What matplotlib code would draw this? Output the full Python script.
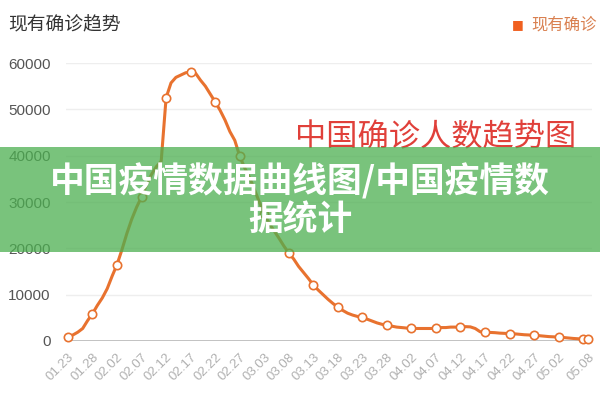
import numpy as np
import matplotlib
matplotlib.use("Agg")
import matplotlib.pyplot as plt
from matplotlib.patches import Rectangle

plt.rcParams['font.family'] = ['Noto Sans CJK SC', 'DejaVu Sans']

#------------------------------------------------------------------------------
#                   data (existing confirmed cases, one value per day)
#------------------------------------------------------------------------------
jan = [800, 1300, 1900, 2700, 4400, 5900, 7700, 9300, 11300]          # 01.23 - 01.31
feb = [14000, 16500, 19700, 23200, 26300, 28900, 31100, 33700, 35900, 37600,
       38800, 52500, 55700, 56900, 57400, 57900, 58000, 57800, 56300, 55000,
       53300, 51600, 49800, 47700, 45200, 43300, 39900, 37400, 35300]
mar = [32700, 30000, 27400, 25400, 23800, 22200, 20500, 19000, 17700, 16100,
       14800, 13500, 12100, 11000, 10000, 9000, 8100, 7300, 6600, 6000,
       5600, 5300, 5100, 4700, 4300, 3900, 3600, 3400, 3200, 3000, 2900]
apr = [2800, 2700, 2700, 2700, 2700, 2700, 2800, 2900, 2900, 3000,
       3000, 3000, 3100, 3050, 2700, 2000, 1900, 1850, 1800, 1700,
       1650, 1600, 1550, 1450, 1350, 1300, 1200, 1150, 1050, 950]
may = [900, 850, 750, 650, 550, 480, 420, 400]                          # 05.01 - 05.08

tick_labels = ['01.23', '01.28', '02.02', '02.07', '02.12', '02.17', '02.22',
               '02.27', '03.03', '03.08', '03.13', '03.18', '03.23', '03.28',
               '04.02', '04.07', '04.12', '04.17', '04.22', '04.27', '05.02',
               '05.08']

title = '现有确诊趋势'
series_name = '现有确诊'
overlay_red = '中国确诊人数趋势图'
banner_line1 = '中国疫情数据曲线图/中国疫情数'
banner_line2 = '据统计'

values = jan + feb + mar + apr + may
days = np.arange(len(values))
marks = list(range(0, len(values), 5)) + [len(values) - 1]
tick_pos = list(range(0, 101, 5)) + [len(values) - 1]

#------------------------------------------------------------------------------
#                   plot
#------------------------------------------------------------------------------
orange = '#e8722f'
fig = plt.figure(figsize=(6, 4), dpi=100)
ax = fig.add_axes([66 / 600, 1 - 341 / 400, 526 / 600, 278 / 400])

ax.plot(days, values, color=orange, lw=2.2, marker='o', markevery=marks,
        ms=6, mfc='white', mec=orange, mew=1.2, zorder=3, clip_on=False)

ax.set_xlim(-0.4, 106.8)
ax.set_ylim(0, 60000)
ax.set_yticks(range(0, 60001, 10000))
ax.grid(axis='y', color='#eeeeee', lw=1)
ax.axhline(0, color='#bdbdbd', lw=2, zorder=2)
for s in ax.spines.values():
    s.set_visible(False)

ax.set_xticks(tick_pos)
ax.set_xticklabels(tick_labels, rotation=45, ha='right', rotation_mode='anchor',
                   color='#b0b0b0', fontsize=9.5, family='Liberation Sans')
ax.tick_params(axis='both', length=0)
ax.tick_params(axis='x', pad=7)
ax.tick_params(axis='y', pad=11, labelsize=11, labelcolor='#555555')
for lb in ax.get_yticklabels():
    lb.set_family('Liberation Sans')

# header
fig.text(8 / 600, 1 - 25 / 400, title, fontsize=13.5, color='#333333',
         ha='left', va='center')
fig.text(518 / 600, 1 - 25 / 400, '\u25a0', fontsize=9, color='#f06020',
         ha='center', va='center', family='DejaVu Sans')
fig.text(531 / 600, 1 - 25 / 400, series_name, fontsize=11.8, color='#d98050',
         ha='left', va='center')

# overlays
fig.text(436 / 600, 1 - 137 / 400, overlay_red, fontsize=22.5, color='#e0403a',
         ha='center', va='center', zorder=5)
fig.add_artist(Rectangle((0, 1 - 252 / 400), 1, 105 / 400, transform=fig.transFigure,
                         facecolor='#4caf50', alpha=0.75, edgecolor='none', zorder=6))
fig.text(0.5, 1 - 181 / 400, banner_line1, fontsize=25, color='white',
         ha='center', va='center', fontweight='bold', zorder=7)
fig.text(0.5, 1 - 220 / 400, banner_line2, fontsize=25, color='white',
         ha='center', va='center', fontweight='bold', zorder=7)

fig.savefig('out.png', dpi=100)
